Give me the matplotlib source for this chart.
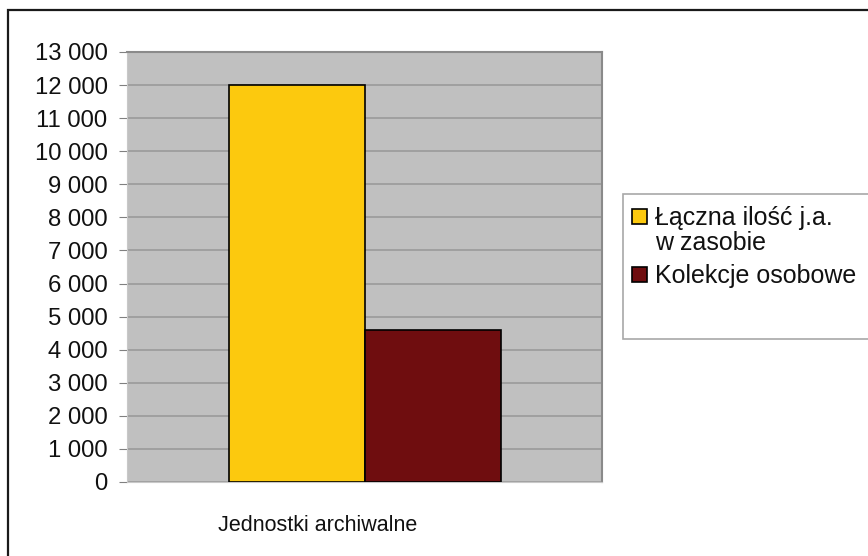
import matplotlib.pyplot as plt
from matplotlib.patches import Rectangle
from matplotlib.transforms import ScaledTranslation

plt.rcParams['font.family'] = ['Liberation Sans', 'DejaVu Sans']

category = "Jednostki archiwalne"
series = ["Łączna ilość j.a.\nw zasobie", "Kolekcje osobowe"]
values = [12000, 4600]
colors = ["#fcc90e", "#6f0d0f"]
yticks = list(range(0, 13001, 1000))

W, H = 868, 556
fig = plt.figure(figsize=(W / 100, H / 100), dpi=100)
fig.patch.set_facecolor("white")

def px(x, y):
    # pixel position (from top-left) -> figure fraction
    return x / W, 1 - y / H

# outer frame running off the right and bottom edges
fig.add_artist(Rectangle((8 / W, -0.1), 1.2, 1 - 10 / H + 0.1, transform=fig.transFigure,
                         fill=False, edgecolor="#1a1a1a", linewidth=1.6))

left, right, top, bottom = 127, 602, 52, 482
ax = fig.add_axes([left / W, 1 - bottom / H, (right - left) / W, (bottom - top) / H])
ax.set_facecolor("#c0c0c0")

bw = 136 / (right - left)
offsets = [-bw / 2, bw / 2]
for name, v, c, off in zip(series, values, colors, offsets):
    ax.bar(off, v, width=bw, color=c, edgecolor="black", linewidth=1.2, zorder=3)

ax.set_xlim(-0.5, 0.5)
ax.set_ylim(0, 13000)
ax.set_yticks(yticks)
ax.set_yticklabels([f"{t:,}".replace(",", " ") for t in yticks], fontsize=17.2, color="#111111")
ax.set_xticks([0])
ax.set_xticklabels([category], fontsize=15.5, color="#111111")
ax.tick_params(axis="x", length=0, pad=24)
ax.tick_params(axis="y", length=6, color="#808080", pad=8)
for lbl in ax.get_xticklabels():
    lbl.set_transform(lbl.get_transform() + ScaledTranslation(-0.47, 0, fig.dpi_scale_trans))
ax.yaxis.grid(True, color="#9a9a9a", linewidth=1.2, zorder=1)
ax.set_axisbelow(True)
for s in ["left", "bottom"]:
    ax.spines[s].set_color("#c8c8c8")
for s in ["right", "top"]:
    ax.spines[s].set_color("#8a8a8a")
    ax.spines[s].set_linewidth(1.5)

# legend box, drawn by hand (it runs off the right edge)
lx, ly = px(623, 339)
fig.add_artist(Rectangle((lx, ly), 1.0, 145 / H, transform=fig.transFigure,
                         facecolor="white", edgecolor="#a8a8a8", linewidth=1.2))
entry_tops = [209, 267]
for name, c, y0 in zip(series, colors, entry_tops):
    mx, my = px(632, y0 + 15)
    fig.add_artist(Rectangle((mx, my), 15 / W, 15 / H, transform=fig.transFigure,
                             facecolor=c, edgecolor="black", linewidth=1.2))
    tx, ty = px(655, y0 - 3)
    fig.text(tx, ty, name, fontsize=18, va="top", ha="left", linespacing=1.05, color="#111111")

fig.savefig("out.png", dpi=100)
